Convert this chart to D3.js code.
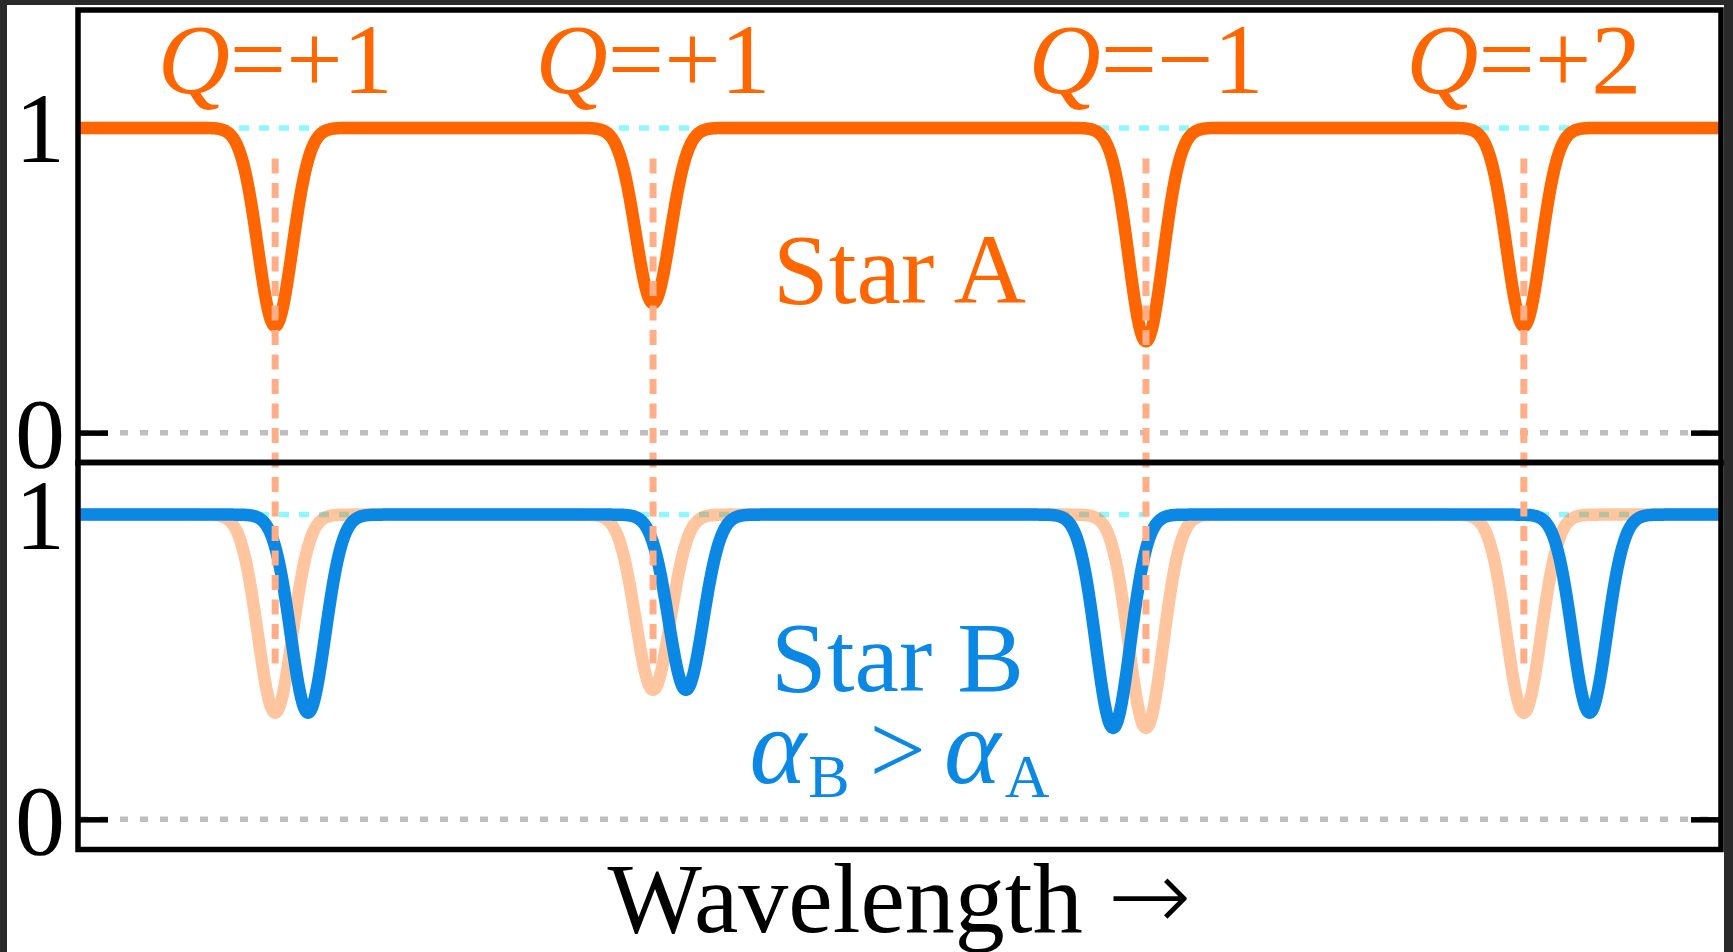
<!DOCTYPE html>
<html>
<head>
<meta charset="utf-8">
<title>Line shifts: Star A vs Star B</title>
<script src="https://cdn.jsdelivr.net/npm/d3@7/dist/d3.min.js"></script>
<style>
  html, body { margin: 0; padding: 0; background: #2a2a2a; }
  svg { display: block; }
  text { font-family: "Liberation Serif", "Times New Roman", serif; }
</style>
</head>
<body>
<svg id="chart" width="1733" height="952"></svg>
<script>
// Absorption lines of Star A (wavelength in arbitrary units, 0–100)
const lineCenters = [12, 35, 65, 88];
const lineDepths  = [0.65, 0.575, 0.70, 0.65];
const lineCharges = [1, 1, -1, 2];
const lineLabels  = ["+1", "+1", "\u22121", "+2"];
const lineSigma   = 1.05;     // Gaussian width of every line
const shiftPerQ   = 2.0;      // Star B shift per unit of Q (α_B > α_A)
const yTickValues = [0, 1];
const wavelengthDomain = [0, 100];

const ORANGE = "#ff6600";
const BLUE   = "#0b88e4";
const CYAN   = "#8cf9ff";
const PEACH  = "#ffae88";
const STROKE = 12.5;

const svg = d3.select("#chart");

// page
svg.append("rect").attr("x", 7).attr("y", 5).attr("width", 1717).attr("height", 947).attr("fill", "#fff");

// panel geometry
const left = 78, right = 1721;
const topPanel = { y0: 10, y1: 462.5 };
const botPanel = { y0: 462.5, y1: 849.5 };

const x  = d3.scaleLinear().domain(wavelengthDomain).range([left, right]);
const yA = d3.scaleLinear().domain([-0.098, 1.387]).range([topPanel.y1, topPanel.y0]);
const yB = d3.scaleLinear().domain([-0.099, 1.171]).range([botPanel.y1, botPanel.y0]);

// spectrum model: continuum of 1 with Gaussian absorption lines
function flux(w, shifted) {
  let f = 1;
  for (let i = 0; i < lineCenters.length; i++) {
    const c = lineCenters[i] + (shifted ? lineCharges[i] * shiftPerQ : 0);
    const z = (w - c) / lineSigma;
    f -= lineDepths[i] * Math.exp(-0.5 * z * z);
  }
  return f;
}
const grid = d3.range(wavelengthDomain[0], wavelengthDomain[1] + 1e-9, 0.04);
const specA = grid.map(w => ({ w, f: flux(w, false) }));
const specB = grid.map(w => ({ w, f: flux(w, true) }));

const defs = svg.append("defs");
defs.append("clipPath").attr("id", "clipTop").append("rect")
  .attr("x", left).attr("y", topPanel.y0).attr("width", right - left).attr("height", topPanel.y1 - topPanel.y0);
defs.append("clipPath").attr("id", "clipBot").append("rect")
  .attr("x", left).attr("y", botPanel.y0).attr("width", right - left).attr("height", botPanel.y1 - botPanel.y0);

// axes ticks (inward, both sides) — drawn beneath the spectra
function ticks(y) {
  svg.append("g").attr("transform", `translate(${left},0)`)
    .call(d3.axisLeft(y).tickValues(yTickValues).tickSizeInner(-30).tickSizeOuter(0).tickPadding(13).tickFormat(d3.format("d")))
    .call(g => g.select(".domain").remove())
    .call(g => g.selectAll(".tick line").attr("stroke", "#000").attr("stroke-width", 5.5))
    .call(g => g.selectAll(".tick text").attr("fill", "#000").attr("font-size", 100)
      .attr("font-family", "'Liberation Serif', 'Times New Roman', serif").attr("dy", "0.34em"));
  svg.append("g").attr("transform", `translate(${right},0)`)
    .call(d3.axisRight(y).tickValues(yTickValues).tickSizeInner(-30).tickSizeOuter(0).tickFormat(""))
    .call(g => g.select(".domain").remove())
    .call(g => g.selectAll(".tick line").attr("stroke", "#000").attr("stroke-width", 5.5));
}
ticks(yA);
ticks(yB);

const gTop = svg.append("g").attr("clip-path", "url(#clipTop)");
const gBot = svg.append("g").attr("clip-path", "url(#clipBot)");

// reference lines: continuum (cyan) and zero (grey)
function refLines(g, y) {
  g.append("line").attr("x1", x(wavelengthDomain[0])).attr("x2", x(wavelengthDomain[1]))
    .attr("y1", y(0)).attr("y2", y(0))
    .attr("stroke", "rgba(0,0,0,0.25)").attr("stroke-width", 5.5).attr("stroke-dasharray", "8 12")
    .attr("stroke-dashoffset", -2);
  g.append("line").attr("x1", x(wavelengthDomain[0])).attr("x2", x(wavelengthDomain[1]))
    .attr("y1", y(1)).attr("y2", y(1))
    .attr("stroke", CYAN).attr("stroke-width", 5.5).attr("stroke-dasharray", "10 10")
    .attr("stroke-dashoffset", -1);
}
refLines(gTop, yA);
refLines(gBot, yB);

// Star A ghost in the lower panel
const lineA_bot = d3.line().x(d => x(d.w)).y(d => yB(d.f));
gBot.append("path").datum(specA).attr("d", lineA_bot)
  .attr("fill", "none").attr("stroke", ORANGE).attr("stroke-opacity", 0.38)
  .attr("stroke-width", STROKE).attr("stroke-linejoin", "round");

// Star A spectrum
const lineA = d3.line().x(d => x(d.w)).y(d => yA(d.f));
gTop.append("path").datum(specA).attr("d", lineA)
  .attr("fill", "none").attr("stroke", ORANGE).attr("stroke-width", STROKE).attr("stroke-linejoin", "round");

// rest wavelength markers running through both panels
svg.append("g").selectAll("line").data(lineCenters).join("line")
  .attr("x1", d => x(d)).attr("x2", d => x(d))
  .attr("y1", yA(0.9)).attr("y2", yB(0.5))
  .attr("stroke", PEACH).attr("stroke-width", 7).attr("stroke-dasharray", "15 9.5");

// Star B spectrum
const lineB = d3.line().x(d => x(d.w)).y(d => yB(d.f));
gBot.append("path").datum(specB).attr("d", lineB)
  .attr("fill", "none").attr("stroke", BLUE).attr("stroke-width", STROKE).attr("stroke-linejoin", "round");

// frames
[topPanel, botPanel].forEach(p => {
  svg.append("rect").attr("x", left).attr("y", p.y0).attr("width", right - left).attr("height", p.y1 - p.y0)
    .attr("fill", "none").attr("stroke", "#000").attr("stroke-width", 5.5);
});

// Q labels above each line
const qText = svg.append("g").selectAll("text").data(lineCenters).join("text")
  .attr("x", d => x(d)).attr("y", 93).attr("text-anchor", "middle")
  .attr("font-size", 100).attr("fill", ORANGE);
qText.append("tspan").attr("font-style", "italic").text("Q");
qText.append("tspan").text((d, i) => "=" + lineLabels[i]);

// panel labels
const midX = x((wavelengthDomain[0] + wavelengthDomain[1]) / 2);
svg.append("text").attr("x", midX).attr("y", 303).attr("text-anchor", "middle")
  .attr("font-size", 100).attr("fill", ORANGE).text("Star A");
svg.append("text").attr("x", midX - 2).attr("y", 691).attr("text-anchor", "middle")
  .attr("font-size", 100).attr("fill", BLUE).text("Star B");

const alpha = svg.append("text").attr("x", midX).attr("y", 783).attr("text-anchor", "middle")
  .attr("font-size", 100).attr("fill", BLUE);
alpha.append("tspan").attr("font-style", "italic").attr("font-size", 108).text("\u03b1");
alpha.append("tspan").attr("font-size", 62).attr("dy", 14).attr("dx", 2).text("B");
alpha.append("tspan").attr("dy", -14).attr("dx", 20).text(">");
alpha.append("tspan").attr("dx", 18).attr("font-style", "italic").attr("font-size", 108).text("\u03b1");
alpha.append("tspan").attr("font-size", 62).attr("dy", 14).attr("dx", 4).text("A");

// x-axis label
const xl = svg.append("text").attr("x", midX).attr("y", 932).attr("text-anchor", "middle")
  .attr("font-size", 100).attr("fill", "#000");
xl.append("tspan").text("Wavelength ");
xl.append("tspan").attr("font-family", "'DejaVu Sans', sans-serif").attr("font-weight", 200)
  .attr("font-size", 100).attr("dy", -2).text("\u2192");
</script>
</body>
</html>
